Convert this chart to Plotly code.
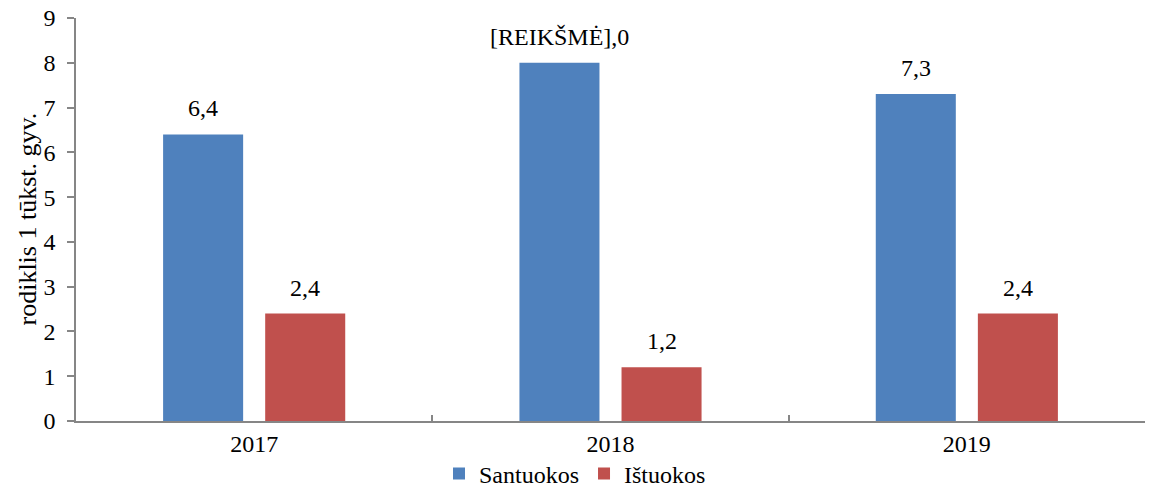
import plotly.graph_objects as go

years = ["2017", "2018", "2019"]
santuokos = [6.4, 8.0, 7.3]
istuokos = [2.4, 1.2, 2.4]
santuokos_labels = ["6,4", "[REIKŠMĖ],0", "7,3"]
istuokos_labels = ["2,4", "1,2", "2,4"]
y_ticks = list(range(0, 10))
y_title = "rodiklis 1 tūkst. gyv."

BLUE = "#4F81BD"
RED = "#C0504D"
AXIS = "#868686"
FONT = "Liberation Serif"
FS = 24
BARGAP = 0.427
GROUPGAP = 0.216

fig = go.Figure()
fig.add_trace(go.Bar(x=years, y=santuokos, name="Santuokos", marker=dict(color=BLUE, line=dict(width=0))))
fig.add_trace(go.Bar(x=years, y=istuokos, name="Ištuokos", marker=dict(color=RED, line=dict(width=0))))

off = (1 - BARGAP) / 4
anns = []
for i, (v, t) in enumerate(zip(santuokos, santuokos_labels)):
    anns.append(dict(x=i - off, y=v, xref="x", yref="y", text=t, showarrow=False,
                     yanchor="middle", yshift=26, font=dict(family=FONT, size=FS, color="black")))
for i, (v, t) in enumerate(zip(istuokos, istuokos_labels)):
    anns.append(dict(x=i + off, y=v, xref="x", yref="y", text=t, showarrow=False,
                     yanchor="middle", yshift=26, font=dict(family=FONT, size=FS, color="black")))
# y-axis title
anns.append(dict(x=0, y=0.5, xref="paper", yref="paper", text=y_title, showarrow=False,
                 textangle=-90, xanchor="center", yanchor="middle", xshift=-49,
                 font=dict(family=FONT, size=26, color="black")))

fig.update_layout(
    width=1150, height=490,
    margin=dict(l=76, r=5, t=18, b=69),
    paper_bgcolor="white", plot_bgcolor="white",
    barmode="group", bargap=BARGAP, bargroupgap=GROUPGAP,
    font=dict(family=FONT, size=FS, color="black"),
    annotations=anns,
    showlegend=True,
    legend=dict(orientation="h", x=0.5, xanchor="center", xref="container",
                y=16 / 490, yanchor="middle", yref="container", font=dict(family=FONT, size=FS),
                itemwidth=30, tracegroupgap=0, bgcolor="rgba(0,0,0,0)"),
    xaxis=dict(type="category", showline=True, linecolor=AXIS, linewidth=1.5, automargin=False,
               ticks="inside", tickson="boundaries", ticklen=6, tickcolor=AXIS, tickwidth=1.5,
               showgrid=False, zeroline=False, tickfont=dict(family=FONT, size=FS)),
    yaxis=dict(range=[0, 9], tickvals=y_ticks, showline=True, linecolor=AXIS, linewidth=1.5,
               automargin=False, ticks="outside", ticklen=7, tickcolor=AXIS, tickwidth=1.5,
               ticklabelstandoff=7,
               showgrid=False, zeroline=False, tickfont=dict(family=FONT, size=FS)),
)

fig.write_html("out.html")
